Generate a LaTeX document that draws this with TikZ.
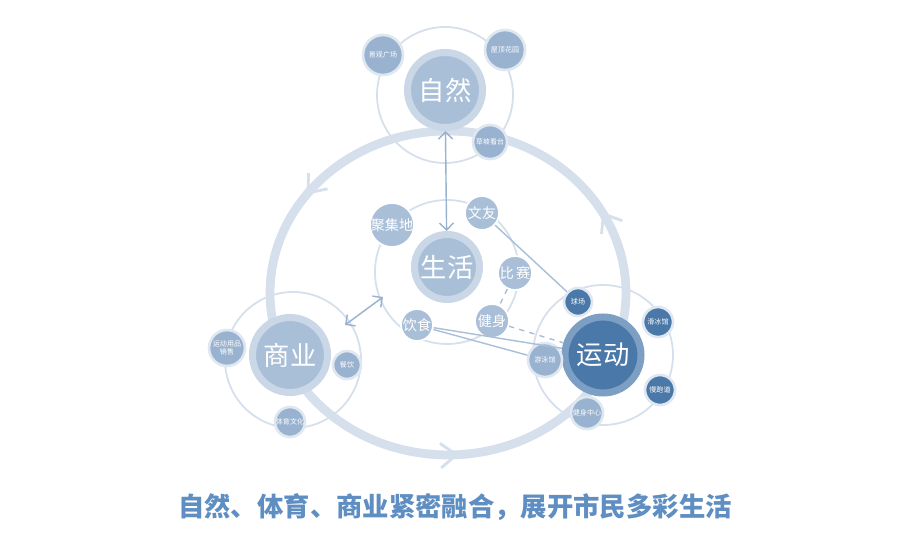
\documentclass[tikz,border=0pt]{standalone}
\usepackage{fontspec}
\setmainfont{Noto Sans CJK SC}
\usetikzlibrary{arrows.meta,decorations.markings}
\definecolor{ringc}{HTML}{D5E0EC}
\definecolor{hubc}{HTML}{A9BFD8}
\definecolor{haloc}{HTML}{C9D7E7}
\definecolor{smallc}{HTML}{98B2CF}
\definecolor{sportc}{HTML}{4A78A8}
\definecolor{sporthalo}{HTML}{7D9FC4}
\definecolor{titlec}{HTML}{5E8EC2}
\tikzset{
  hub/.style={circle, fill=hubc, draw=haloc, line width=4pt, minimum size=#1, inner sep=0pt, text=white, font=\fontsize{15}{15}\selectfont},
  leaf/.style={circle, fill=smallc, draw=haloc!60, line width=1.5pt, minimum size=#1, inner sep=0pt, text=white, font=\fontsize{4}{5}\selectfont, align=center},
  mid/.style={circle, fill=hubc, draw=white, line width=1pt, minimum size=#1, inner sep=0pt, text=white, font=\fontsize{8}{8}\selectfont},
  orbit/.style={draw=ringc, line width=1pt},
  link/.style={draw=hubc, line width=0.8pt},
  dual/.style={draw=smallc, line width=0.8pt, {Straight Barb[length=4pt]}-{Straight Barb[length=4pt]}}
}
\begin{document}
\begin{tikzpicture}[x=0.02cm,y=-0.02cm]
\useasboundingbox[fill=white] (0,0) rectangle (910,533);

% big cycle with arrows
\draw[ringc, line width=5pt, postaction={decorate}, decoration={markings,
  mark=at position 0.15 with {\arrow[line width=1.6pt]{Straight Barb[length=9pt,width=14pt]}},
  mark=at position 0.51 with {\arrow[line width=1.6pt]{Straight Barb[length=9pt,width=14pt]}},
  mark=at position 0.83 with {\arrow[line width=1.6pt]{Straight Barb[length=9pt,width=14pt]}}}]
  (448,131) arc[start angle=90, end angle=450, x radius=3.56cm, y radius=3.24cm];

% orbits
\draw[orbit] (445,95) circle[radius=1.36cm];
\draw[orbit] (447,272) circle[radius=1.44cm];
\draw[orbit] (293,360) circle[radius=1.36cm];
\draw[orbit] (603,355) circle[radius=1.4cm];

% hubs
\node[hub=1.5cm] (nature) at (445,90) {自然};
\node[hub=1.3cm] (life) at (447,267) {生活};
\node[hub=1.5cm] (trade) at (290,355) {商业};
\node[hub=1.52cm, fill=sportc, draw=sporthalo] (sport) at (603,355) {运动};

% nature leaves
\node[leaf=0.8cm] (plaza) at (383,55) {景观广场};
\node[leaf=0.8cm] (roof) at (505,50) {屋顶花园};
\node[leaf=0.68cm] (stand) at (490,142) {草坡看台};

% life leaves
\node[mid=0.76cm] (gather) at (392,225) {聚集地};
\node[mid=0.68cm] (friend) at (482,213) {文友};
\node[mid=0.68cm] (match) at (515,273) {比\,赛};
\node[mid=0.68cm] (fit) at (492,321) {健身};
\node[mid=0.64cm] (food) at (417,325) {饮食};

% sport leaves
\node[leaf=0.56cm, fill=sportc] (court) at (578,302) {球场};
\node[leaf=0.6cm, fill=sportc] (skate) at (658,322) {滑冰馆};
\node[leaf=0.68cm] (swim) at (545,360) {游泳馆};
\node[leaf=0.6cm, fill=sportc] (jog) at (660,390) {慢跑道};
\node[leaf=0.64cm] (gym) at (587,413) {健身中心};

% trade leaves
\node[leaf=0.72cm] (shop) at (227,348) {运动用品\\销售};
\node[leaf=0.56cm] (dine) at (347,365) {餐饮};
\node[leaf=0.6cm] (culture) at (290,422) {体育文化};

% links
\draw[link] (friend) -- (court);
\draw[link] (food) -- (swim);
\draw[link] (food) -- (sport);
\draw[link, dashed] (match) -- (fit);
\draw[link, dashed] (fit) -- (sport);
\draw[dual] (nature) -- (life);
\draw[dual] (345,325) -- (383,297);

\node[text=titlec, font=\fontsize{15}{15}\selectfont\bfseries] (title) at (455,507) {自然、体育、商业紧密融合，展开市民多彩生活};
\end{tikzpicture}
\end{document}
